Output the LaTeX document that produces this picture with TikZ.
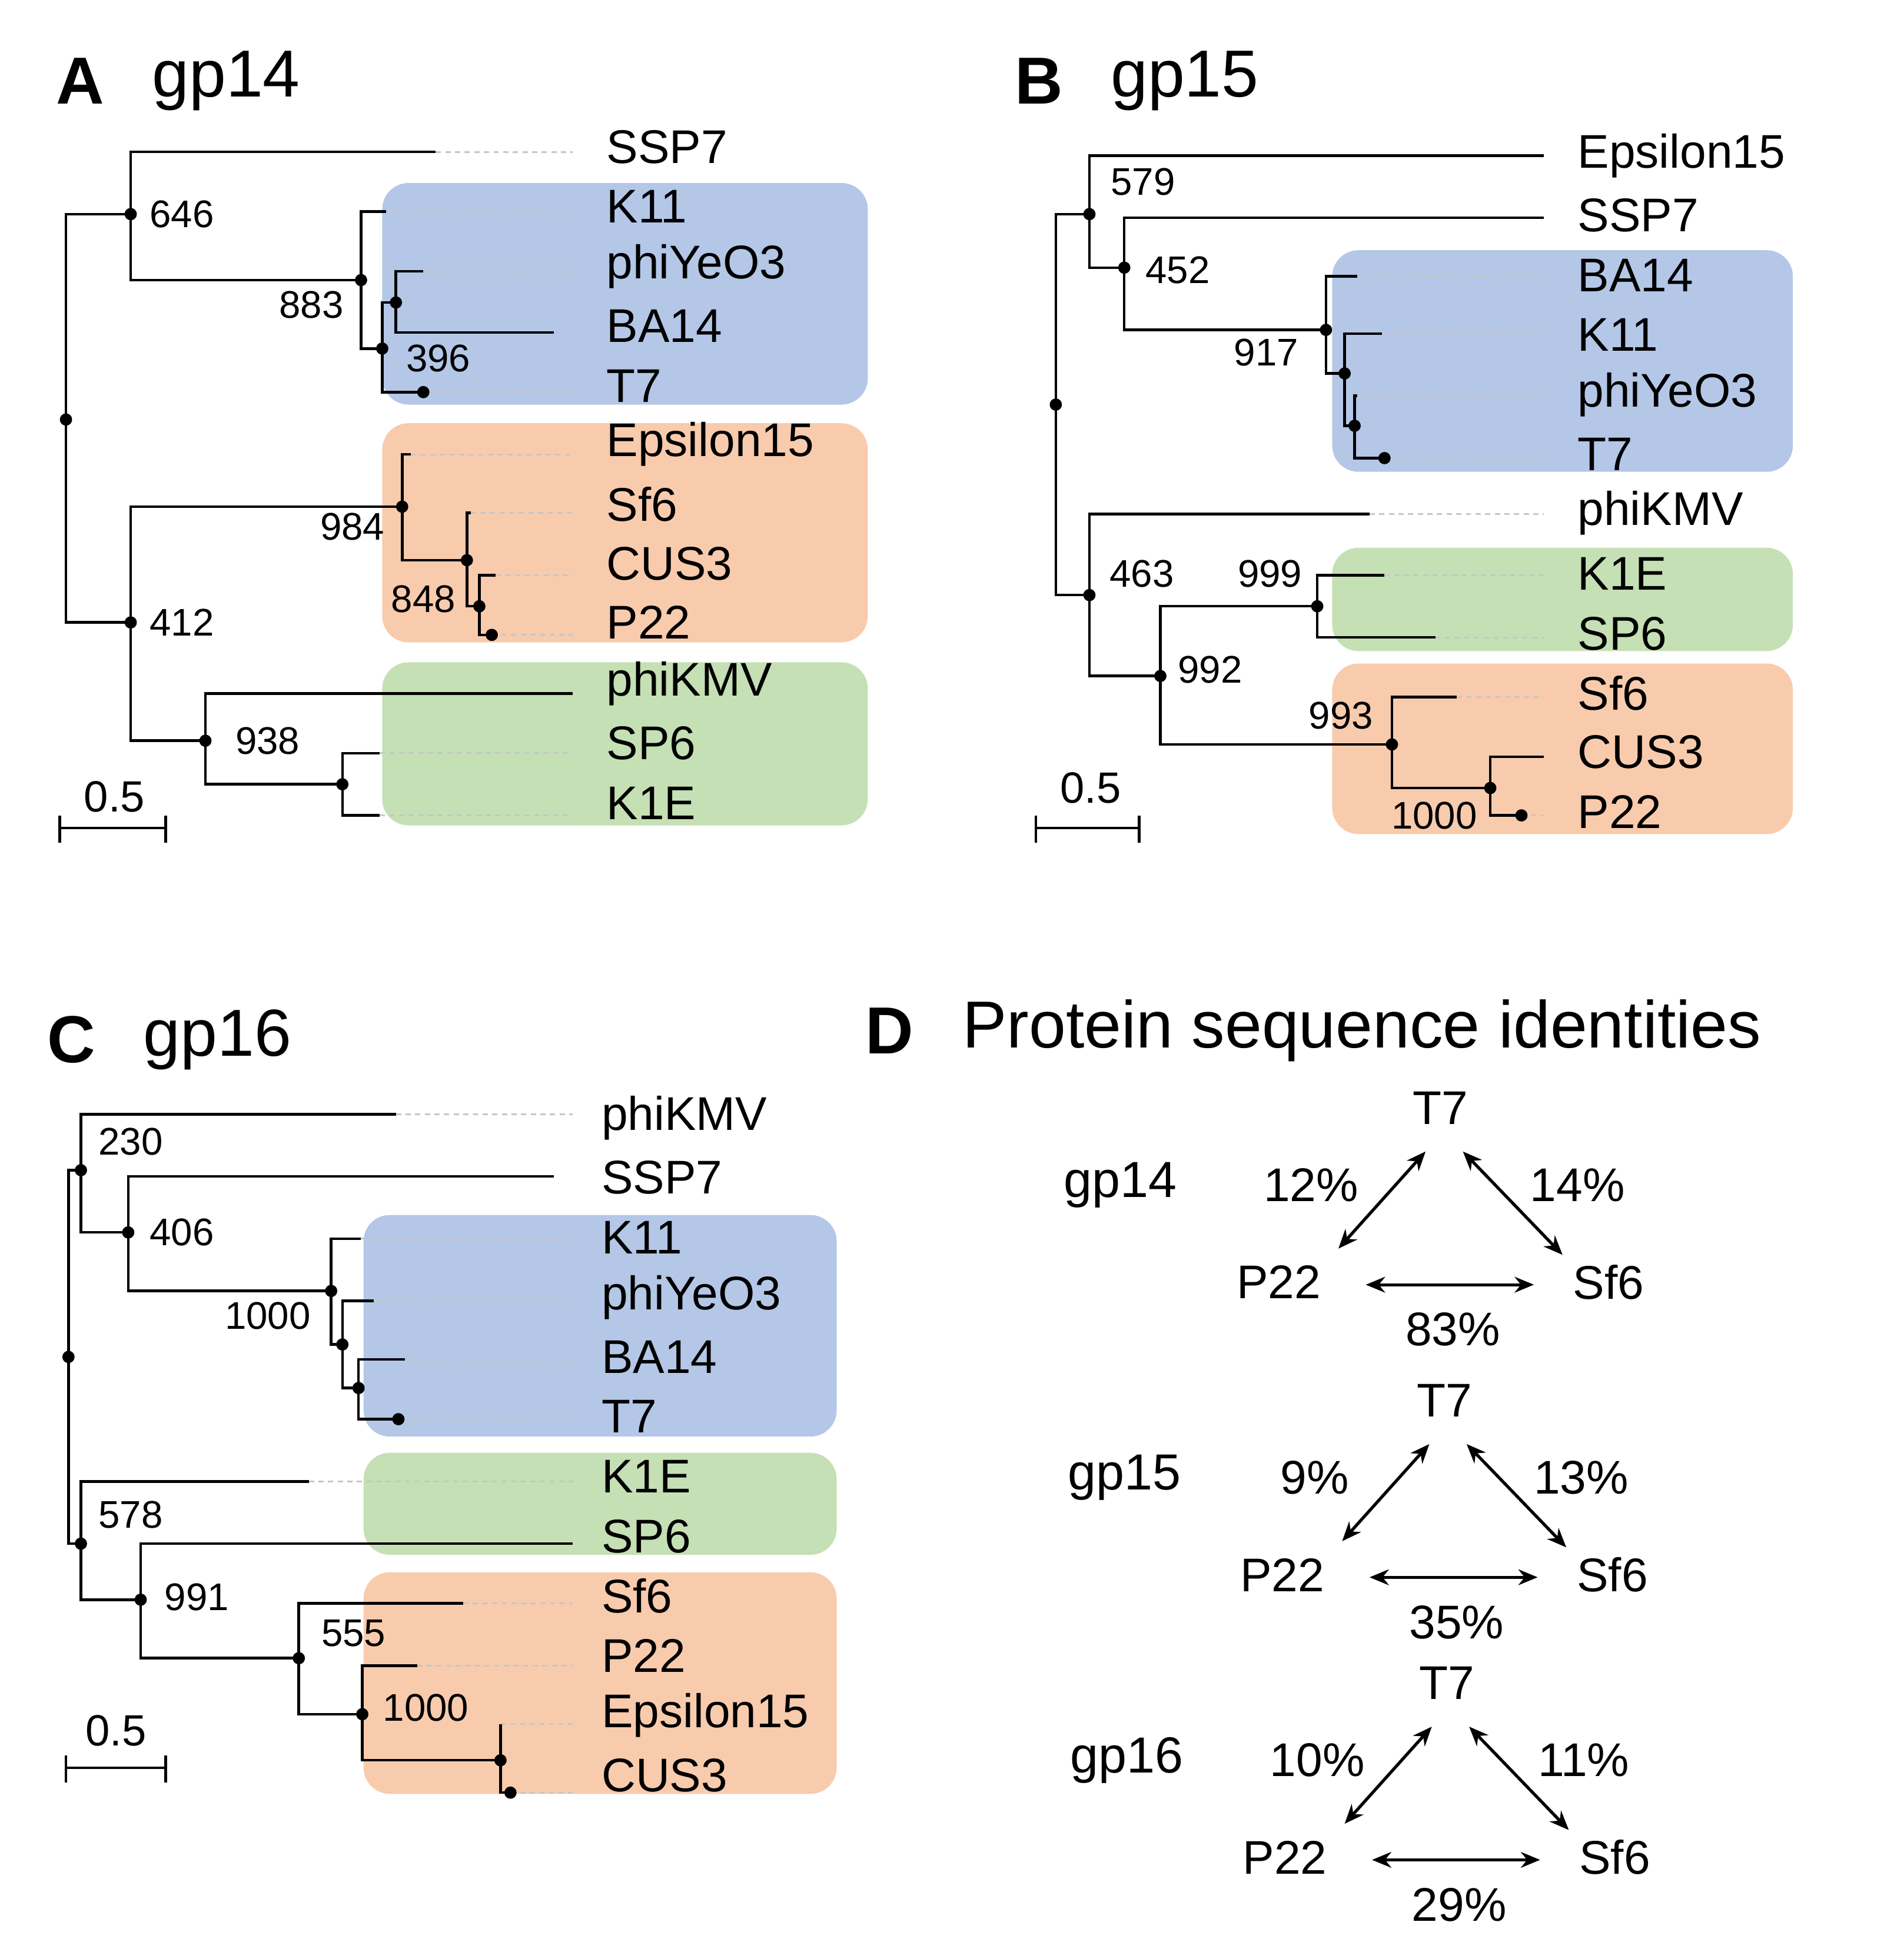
\documentclass[tikz,border=0pt]{standalone}
\usepackage{fontspec}
\usetikzlibrary{arrows.meta}
\setmainfont{Liberation Sans}
\begin{document}
\begin{tikzpicture}[x=0.05cm,y=-0.05cm,
 br/.style={line width=3pt,black},
 dl/.style={line width=2pt,gray!45,dash pattern=on 6pt off 5pt},
 dot/.style={circle,fill=black,inner sep=0pt,minimum size=14pt},
 tip/.style={anchor=west,font=\fontsize{54}{60}\selectfont,inner sep=0pt},
 bs/.style={font=\fontsize{44}{50}\selectfont,inner sep=0pt},
 ttl/.style={anchor=west,font=\fontsize{76}{80}\selectfont,inner sep=0pt},
 pct/.style={font=\fontsize{54}{60}\selectfont,inner sep=0pt},
 ar/.style={line width=3.5pt,<->,>={Stealth[length=22pt,width=18pt]}}]
\definecolor{cb}{HTML}{B4C7E7}
\definecolor{co}{HTML}{F8CBAD}
\definecolor{cg}{HTML}{C5E0B4}
\useasboundingbox (0,0) rectangle (1529,1560);
% ---------- Panel A ----------
\node[ttl,font=\fontsize{76}{80}\selectfont\bfseries] (tA) at (45,65) {A};
\node[ttl] (gA) at (122,65) {gp14};
\fill[cb,rounded corners=30pt] (307,147) rectangle (697,325);
\fill[co,rounded corners=30pt] (307,340) rectangle (697,516);
\fill[cg,rounded corners=30pt] (307,532) rectangle (697,663);
\foreach \y/\t in {118/SSP7,166/K11,214/phiYeO3,262/BA14,310/T7,357/Epsilon15,405/Sf6,453/CUS3,500/P22,549/phiKMV,597/SP6,645/K1E}
  \node[tip] at (487,\y) {\t};
\draw[dl] (350,122)--(460,122) (310,170)--(460,170) (340,218)--(460,218) (340,315)--(460,315)
 (330,365)--(460,365) (378,412)--(460,412) (398,462)--(460,462) (395,510)--(460,510)
 (305,605)--(460,605) (305,655)--(460,655);
\draw[br] (105,172)--(53,172)--(53,500)--(105,500);
\draw[br] (350,122)--(105,122)--(105,225)--(290,225);
\draw[br] (310,170)--(290,170)--(290,280)--(307,280);
\draw[br] (318,243)--(307,243)--(307,315)--(340,315);
\draw[br] (340,218)--(318,218)--(318,267)--(445,267);
\draw[br] (323,407)--(105,407)--(105,595)--(165,595);
\draw[br] (330,365)--(323,365)--(323,450)--(375,450);
\draw[br] (378,412)--(375,412)--(375,487)--(385,487);
\draw[br] (398,462)--(385,462)--(385,510)--(395,510);
\draw[br] (460,557)--(165,557)--(165,630)--(275,630);
\draw[br] (305,605)--(275,605)--(275,655)--(305,655);
\foreach \p in {(53,337),(105,172),(290,225),(307,280),(318,243),(340,315),(105,500),(323,407),(375,450),(385,487),(395,510),(165,595),(275,630)}
  \node[dot] at \p {};
\node[bs] at (146,172) {646};
\node[bs] at (250,245) {883};
\node[bs] at (352,288) {396};
\node[bs] at (283,423) {984};
\node[bs] at (340,481) {848};
\node[bs] at (146,500) {412};
\node[bs] at (215,595) {938};
\draw[br] (48,665)--(133,665) (48,655)--(48,677) (133,655)--(133,677);
\node[bs,font=\fontsize{50}{50}\selectfont] at (92,640) {0.5};
% ---------- Panel B ----------
\node[ttl,font=\fontsize{76}{80}\selectfont\bfseries] (tB) at (815,65) {B};
\node[ttl] (gB) at (892,65) {gp15};
\fill[cb,rounded corners=30pt] (1070,201) rectangle (1440,379);
\fill[cg,rounded corners=30pt] (1070,440) rectangle (1440,523);
\fill[co,rounded corners=30pt] (1070,533) rectangle (1440,670);
\foreach \y/\t in {125/Epsilon15,173/SSP7,221/BA14,269/K11,317/phiYeO3,365/T7,412/phiKMV,461/K1E,509/SP6,557/Sf6,604/CUS3,652/P22}
  \node[tip] at (1267,\y) {\t};
\draw[dl] (1090,222)--(1240,222) (1110,268)--(1240,268) (1090,318)--(1240,318) (1112,368)--(1240,368)
 (1100,413)--(1240,413) (1112,462)--(1240,462) (1153,512)--(1240,512) (1170,560)--(1240,560) (1222,655)--(1240,655);
\draw[br] (875,172)--(848,172)--(848,478)--(875,478);
\draw[br] (1240,125)--(875,125)--(875,215)--(903,215);
\draw[br] (1240,175)--(903,175)--(903,265)--(1065,265);
\draw[br] (1090,222)--(1065,222)--(1065,300)--(1080,300);
\draw[br] (1110,268)--(1080,268)--(1080,342)--(1088,342);
\draw[br] (1090,318)--(1088,318)--(1088,368)--(1112,368);
\draw[br] (1100,413)--(875,413)--(875,543)--(932,543);
\draw[br] (1058,487)--(932,487)--(932,598)--(1118,598);
\draw[br] (1112,462)--(1058,462)--(1058,512)--(1153,512);
\draw[br] (1170,560)--(1118,560)--(1118,633)--(1197,633);
\draw[br] (1240,608)--(1197,608)--(1197,655)--(1222,655);
\foreach \p in {(848,325),(875,172),(903,215),(1065,265),(1080,300),(1088,342),(1112,368),(875,478),(932,543),(1058,487),(1118,598),(1197,633),(1222,655)}
  \node[dot] at \p {};
\node[bs] at (918,146) {579};
\node[bs] at (946,217) {452};
\node[bs] at (1017,283) {917};
\node[bs] at (917,461) {463};
\node[bs] at (1020,461) {999};
\node[bs] at (972,538) {992};
\node[bs] at (1077,575) {993};
\node[bs] at (1152,655) {1000};
\draw[br] (832,665)--(915,665) (832,655)--(832,677) (915,655)--(915,677);
\node[bs,font=\fontsize{50}{50}\selectfont] at (876,633) {0.5};
% ---------- Panel C ----------
\node[ttl,font=\fontsize{76}{80}\selectfont\bfseries] (tC) at (38,835) {C};
\node[ttl] (gC) at (115,835) {gp16};
\fill[cb,rounded corners=30pt] (292,976) rectangle (672,1154);
\fill[cg,rounded corners=30pt] (292,1167) rectangle (672,1249);
\fill[co,rounded corners=30pt] (292,1263) rectangle (672,1441);
\foreach \y/\t in {898/phiKMV,946/SSP7,994/K11,1042/phiYeO3,1090/BA14,1138/T7,1186/K1E,1234/SP6,1282/Sf6,1330/P22,1378/Epsilon15,1426/CUS3}
  \node[tip] at (483,\y) {\t};
\draw[dl] (318,895)--(460,895) (290,995)--(460,995) (300,1045)--(460,1045) (325,1092)--(460,1092) (320,1140)--(460,1140)
 (248,1190)--(460,1190) (372,1288)--(460,1288) (335,1338)--(460,1338) (402,1385)--(460,1385) (410,1440)--(460,1440);
\draw[br] (65,940)--(55,940)--(55,1240)--(65,1240);
\draw[br] (318,895)--(65,895)--(65,990)--(103,990);
\draw[br] (445,945)--(103,945)--(103,1037)--(266,1037);
\draw[br] (290,995)--(266,995)--(266,1080)--(275,1080);
\draw[br] (300,1045)--(275,1045)--(275,1115)--(288,1115);
\draw[br] (325,1092)--(288,1092)--(288,1140)--(320,1140);
\draw[br] (248,1190)--(65,1190)--(65,1285)--(113,1285);
\draw[br] (460,1240)--(113,1240)--(113,1332)--(240,1332);
\draw[br] (372,1288)--(240,1288)--(240,1377)--(291,1377);
\draw[br] (335,1338)--(291,1338)--(291,1414)--(402,1414);
\draw[br] (402,1385)--(402,1440)--(410,1440);
\foreach \p in {(55,1090),(65,940),(103,990),(266,1037),(275,1080),(288,1115),(320,1140),(65,1240),(113,1285),(240,1332),(291,1377),(402,1414),(410,1440)}
  \node[dot] at \p {};
\node[bs] at (105,917) {230};
\node[bs] at (146,990) {406};
\node[bs] at (215,1057) {1000};
\node[bs] at (105,1217) {578};
\node[bs] at (158,1283) {991};
\node[bs] at (284,1312) {555};
\node[bs] at (342,1372) {1000};
\draw[br] (53,1420)--(133,1420) (53,1410)--(53,1432) (133,1410)--(133,1432);
\node[bs,font=\fontsize{50}{50}\selectfont] at (93,1390) {0.5};
% ---------- Panel D ----------
\node[ttl,font=\fontsize{76}{80}\selectfont\bfseries] (tD) at (695,828) {D};
\node[ttl] (gD) at (773,828) {Protein sequence identities};
\foreach \dy/\dx/\g/\a/\b/\c in {0/0/gp14/12\%/14\%/83\%, 235/3/gp15/9\%/13\%/35\%, 462/5/gp16/10\%/11\%/29\%}{
 \begin{scope}[shift={(\dx,\dy)}]
  \node[pct,font=\fontsize{58}{60}\selectfont] (g\g) at (900,952) {\g};
  \node[pct] (t\g) at (1157,890) {T7};
  \node[pct] (p\g) at (1027,1030) {P22};
  \node[pct] (s\g) at (1292,1030) {Sf6};
  \coordinate (a1\g) at (1075,1003); \coordinate (a2\g) at (1145,925);
  \coordinate (b1\g) at (1175,925); \coordinate (b2\g) at (1255,1008);
  \coordinate (c1\g) at (1097,1032); \coordinate (c2\g) at (1232,1032);
  \draw[ar] (a1\g)--(a2\g);
  \draw[ar] (b1\g)--(b2\g);
  \draw[ar] (c1\g)--(c2\g);
  \node[pct] at (1053,952) {\a};
  \node[pct] at (1267,952) {\b};
  \node[pct] at (1167,1068) {\c};
 \end{scope}}
\end{tikzpicture}
\end{document}
